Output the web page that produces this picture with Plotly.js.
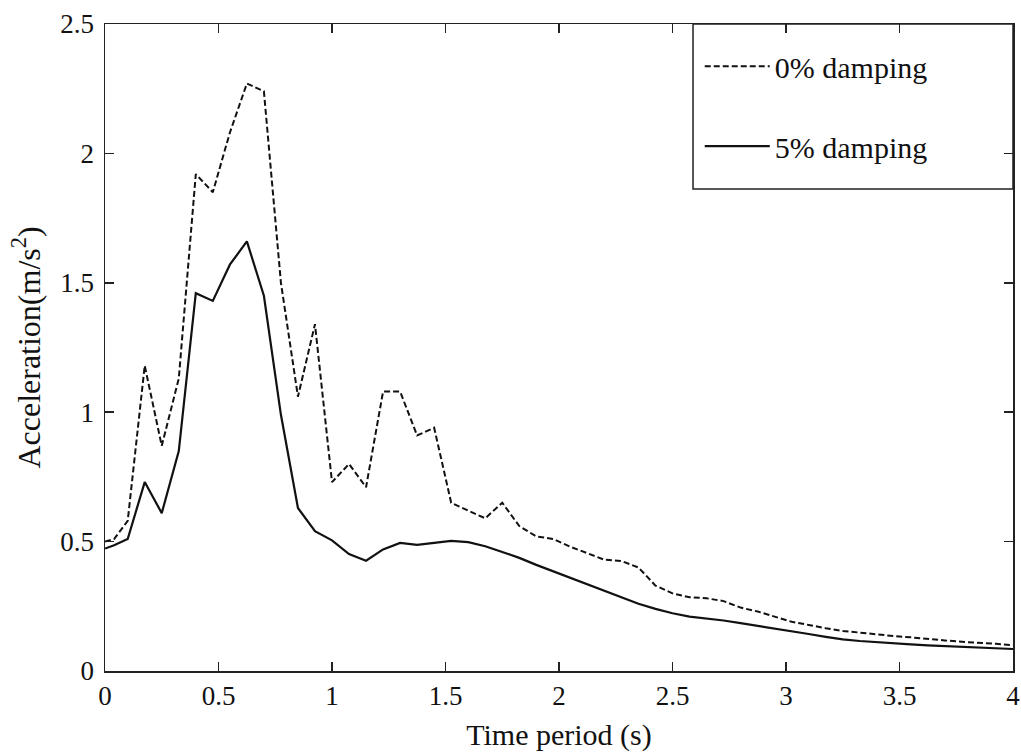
<!DOCTYPE html>
<html>
<head>
<meta charset="utf-8">
<script src="https://cdn.plot.ly/plotly-3.0.1.min.js"></script>
<style>html,body{margin:0;padding:0;background:#fff;}#chart{width:1021px;height:756px;}</style>
</head>
<body>
<div id="chart"></div>
<script>
var period = [0, 0.04, 0.1, 0.175, 0.25, 0.325, 0.4, 0.475, 0.55, 0.625, 0.7, 0.775, 0.85, 0.925,
  1.0, 1.075, 1.15, 1.225, 1.3, 1.375, 1.45, 1.525, 1.6, 1.675, 1.75, 1.825, 1.9, 1.975,
  2.05, 2.125, 2.2, 2.275, 2.35, 2.425, 2.5, 2.575, 2.65, 2.725, 2.8, 2.875, 2.95,
  3.025, 3.1, 3.175, 3.25, 3.325, 3.4, 3.475, 3.55, 3.625, 3.7, 3.775, 3.85, 3.925, 4.0];

var damping0 = [0.50, 0.51, 0.58, 1.18, 0.87, 1.13, 1.92, 1.85, 2.08, 2.27, 2.24, 1.50, 1.06, 1.34,
  0.73, 0.80, 0.71, 1.08, 1.08, 0.91, 0.94, 0.65, 0.62, 0.59, 0.65, 0.56, 0.52, 0.51,
  0.48, 0.455, 0.43, 0.425, 0.40, 0.33, 0.30, 0.285, 0.281, 0.27, 0.245, 0.23, 0.21,
  0.19, 0.178, 0.165, 0.155, 0.148, 0.14, 0.135, 0.13, 0.123, 0.118, 0.113, 0.11, 0.105, 0.10];

var damping5 = [0.473, 0.486, 0.51, 0.73, 0.61, 0.85, 1.46, 1.43, 1.57, 1.66, 1.45, 0.99, 0.63, 0.54,
  0.505, 0.452, 0.426, 0.47, 0.495, 0.487, 0.495, 0.503, 0.498, 0.482, 0.46, 0.437, 0.41, 0.385,
  0.36, 0.333, 0.307, 0.283, 0.26, 0.24, 0.223, 0.21, 0.203, 0.195, 0.185, 0.175, 0.165,
  0.155, 0.143, 0.132, 0.122, 0.116, 0.111, 0.107, 0.103, 0.099, 0.096, 0.093, 0.09, 0.087, 0.085];

var seriesNames = ['0% damping', '5% damping'];
var xTicks = [0, 0.5, 1, 1.5, 2, 2.5, 3, 3.5, 4];
var xTickText = ['0', '0.5', '1', '1.5', '2', '2.5', '3', '3.5', '4'];
var yTicks = [0, 0.5, 1, 1.5, 2, 2.5];
var yTickText = ['0', '0.5', '1', '1.5', '2', '2.5'];

var FONT = 'Liberation Serif, Times New Roman, serif';

var traces = [
  {x: period, y: damping0, name: seriesNames[0], mode: 'lines', legendgroup: 'a',
   line: {color: '#111', width: 2, dash: '6px,3px'}},
  {x: period, y: damping5, name: seriesNames[1], mode: 'lines', legendgroup: 'b',
   line: {color: '#111', width: 2.2}}
];

var axisCommon = {
  showgrid: false, zeroline: false, showline: true, linecolor: '#222', linewidth: 1.5,
  mirror: 'ticks', ticks: 'inside', ticklen: 9, tickwidth: 1.5, tickcolor: '#222',
  tickfont: {family: FONT, size: 27, color: '#111'}, tickmode: 'array'
};

var layout = {
  width: 1021, height: 756,
  margin: {l: 105, r: 8, t: 24, b: 85},
  paper_bgcolor: '#fff', plot_bgcolor: '#fff',
  font: {family: FONT, color: '#111'},
  showlegend: true,
  legend: {x: 0.655, y: 0.975, xanchor: 'left', yanchor: 'top', bgcolor: 'rgba(0,0,0,0)',
           borderwidth: 0, font: {family: FONT, size: 30, color: '#111'},
           tracegroupgap: 38, itemwidth: 65},
  xaxis: Object.assign({}, axisCommon, {
    range: [0, 4], tickvals: xTicks, ticktext: xTickText,
    title: {text: 'Time period (s)', font: {family: FONT, size: 30, color: '#111'}, standoff: 14}
  }),
  yaxis: Object.assign({}, axisCommon, {
    range: [0, 2.5], tickvals: yTicks, ticktext: yTickText, ticklabelstandoff: 4,
    title: {text: 'Acceleration(m/s<sup>2</sup>)', font: {family: FONT, size: 32, color: '#111'}, standoff: 10}
  }),
  shapes: [
    {type: 'rect', xref: 'paper', yref: 'paper', x0: 0.6476, x1: 1, y0: 0.745, y1: 1,
     line: {color: '#222', width: 1.5}, fillcolor: 'rgba(0,0,0,0)'}
  ]
};

Plotly.newPlot('chart', traces, layout, {staticPlot: true, displayModeBar: false});
</script>
</body>
</html>
